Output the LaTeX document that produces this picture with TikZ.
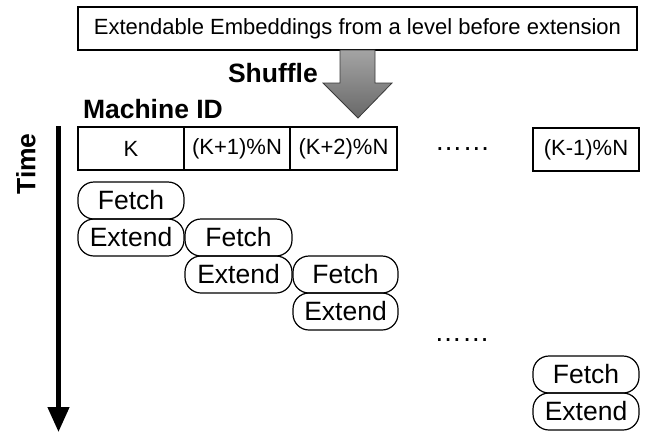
\documentclass[tikz,border=0pt]{standalone}
\usepackage{fontspec}
\setmainfont{Liberation Sans}
\usetikzlibrary{arrows.meta}
\definecolor{shtop}{HTML}{A4A4A4}
\definecolor{shbot}{HTML}{686868}
\definecolor{shline}{HTML}{3A3A3A}
\begin{document}
\begin{tikzpicture}[x=1pt,y=-1pt,
  box/.style={draw, line width=1.2pt, inner sep=0pt, outer sep=0pt, font=\fontsize{22}{26}\selectfont},
  cell/.style={box, minimum height=43pt, anchor=north west},
  op/.style={draw, line width=1.2pt, rounded corners=16pt, minimum height=37pt, inner sep=0pt, outer sep=0pt, anchor=north west, font=\fontsize{26.5}{30}\selectfont},
  lbl/.style={font=\fontsize{26.5}{30}\selectfont\bfseries, inner sep=0pt, outer sep=0pt},
  dotsrow/.style={font=\fontsize{27.6}{30}\selectfont, inner sep=0pt, anchor=base}]
\useasboundingbox (0,0) rectangle (647,432);

% source box
\node[box, minimum width=559pt, minimum height=43pt] (src) at (357.5,28.5) {Extendable Embeddings from a level before extension};

% shuffle arrow
\shade[top color=shtop, bottom color=shbot, draw=shline, line width=0.8pt]
  (340,50) -- (375,50) -- (375,83) -- (392,83) -- (358,118) -- (323,83) -- (340,83) -- cycle;
\node[lbl, anchor=base west] (shuffle) at (228,82) {Shuffle};

% machine id
\node[lbl, anchor=base west] (mid) at (83,118) {Machine ID};
\node[cell, minimum width=106pt] (m0) at (78,127) {K};
\node[cell, minimum width=106pt] (m1) at (184,127) {(K+1)\%N};
\node[cell, minimum width=107pt] (m2) at (290,127) {(K+2)\%N};
\node[dotsrow] (d1) at (462.5,150.5) {……};
\node[cell, minimum width=106pt] (mn) at (533,128) {(K-1)\%N};

% time axis
\coordinate (ttop) at (58.5,126);
\coordinate (tbot) at (58.5,432);
\draw[line width=4.5pt, -{Triangle[width=21pt,length=25pt]}] (ttop) -- (tbot);
\node[lbl, rotate=90] (time) at (26,164) {Time};

% operations
\node[op, minimum width=106pt] (f0) at (78,182) {Fetch};
\node[op, minimum width=106pt] (e0) at (78,219) {Extend};
\node[op, minimum width=107pt] (f1) at (185,219) {Fetch};
\node[op, minimum width=107pt] (e1) at (185,256) {Extend};
\node[op, minimum width=105pt] (f2) at (293,256) {Fetch};
\node[op, minimum width=105pt] (e2) at (293,293) {Extend};
\node[dotsrow] (d2) at (462,341) {……};
\node[op, minimum width=106pt] (fn) at (533,356) {Fetch};
\node[op, minimum width=106pt] (en) at (533,393) {Extend};
\end{tikzpicture}
\end{document}
